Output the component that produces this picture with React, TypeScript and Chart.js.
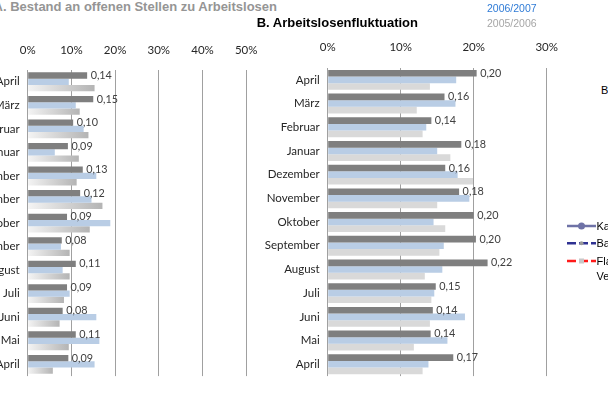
import React, { useEffect, useRef } from 'react';
import { Chart, registerables } from 'chart.js';

Chart.register(...registerables);

const categories = ['April', 'März', 'Februar', 'Januar', 'Dezember', 'November', 'Oktober', 'September', 'August', 'Juli', 'Juni', 'Mai', 'April'];

// A. Bestand an offenen Stellen zu Arbeitslosen
const stockDark = [0.136, 0.15, 0.104, 0.092, 0.126, 0.12, 0.09, 0.078, 0.11, 0.09, 0.08, 0.11, 0.093];
const stockBlue = [0.094, 0.11, 0.128, 0.062, 0.157, 0.146, 0.189, 0.076, 0.08, 0.096, 0.157, 0.164, 0.153];
const stockGray = [0.153, 0.119, 0.139, 0.117, 0.112, 0.171, 0.142, 0.096, 0.096, 0.083, 0.073, 0.094, 0.0575];
const ticksA = ['0%', '10%', '20%', '30%', '40%', '50%'];

// B. Arbeitslosenfluktuation
const flowDark = [0.204, 0.16, 0.142, 0.183, 0.161, 0.18, 0.2, 0.203, 0.219, 0.148, 0.144, 0.141, 0.172];
const flowBlue = [0.176, 0.175, 0.135, 0.15, 0.178, 0.194, 0.145, 0.159, 0.157, 0.146, 0.188, 0.164, 0.138];
const flowGray = [0.14, 0.122, 0.13, 0.168, 0.199, 0.15, 0.161, 0.153, 0.133, 0.142, 0.14, 0.118, 0.13];
const ticksB = ['0%', '10%', '20%', '30%'];

const DARK = '#7f7f7f';
const BLUE = '#b9cde5';
const LIGHT = '#d9d9d9';

const valueLabels = {
  id: 'valueLabels',
  afterDatasetsDraw(chart: any) {
    const meta = chart.getDatasetMeta(0);
    const c = chart.ctx;
    c.save();
    c.font = '10.8px Lato';
    c.fillStyle = '#404040';
    c.textBaseline = 'middle';
    c.textAlign = 'left';
    meta.data.forEach((el: any, i: number) => {
      const v = chart.data.datasets[0].data[i] as number;
      c.fillText(v.toFixed(2).replace('.', ','), el.x + 3.5, el.y);
    });
    c.restore();
  },
};

function gradientGray(ctx: any) {
  const chart = ctx.chart;
  if (ctx.type !== 'data' || !chart.chartArea) return '#cccccc';
  const xs = chart.scales.x;
  const x0 = xs.getPixelForValue(0);
  const x1 = xs.getPixelForValue(ctx.raw);
  const g = chart.ctx.createLinearGradient(x0, 0, Math.max(x1, x0 + 1), 0);
  g.addColorStop(0, '#f4f4f4');
  g.addColorStop(1, '#b4b4b4');
  return g;
}

function makeConfig(dark: number[], blue: number[], gray: number[], max: number, tickLabels: string[], gradient: boolean, catPct: number, tickPad: number): any {
  return {
    type: 'bar',
    data: {
      labels: categories,
      datasets: [
        { data: dark, backgroundColor: DARK },
        { data: blue, backgroundColor: BLUE },
        { data: gray, backgroundColor: gradient ? gradientGray : LIGHT },
      ],
    },
    options: {
      indexAxis: 'y',
      responsive: false,
      animation: false,
      events: [],
      datasets: { bar: { categoryPercentage: catPct, barPercentage: 1.0 } },
      layout: { padding: { top: 0, right: 22, bottom: 0, left: 0 } },
      plugins: { legend: { display: false }, tooltip: { enabled: false }, title: { display: false } },
      scales: {
        x: {
          position: 'top',
          min: 0,
          max,
          ticks: {
            stepSize: 0.1,
            padding: tickPad,
            color: '#262626',
            font: { family: 'Lato', size: 11.5 },
            callback: (_v: any, i: number) => tickLabels[i],
          },
          grid: { color: '#a0a0a0', lineWidth: 1, drawTicks: false },
          border: { display: false },
          afterFit: (s: any) => { s.height = 30; },
        },
        y: {
          ticks: { padding: 8, color: '#262626', font: { family: 'Lato', size: 11.5 }, autoSkip: false },
          grid: { display: false, drawTicks: false },
          border: { display: false },
          afterFit: (s: any) => { s.width = 97.7; },
        },
      },
    },
    plugins: [valueLabels],
  };
}

export default function App() {
  const leftRef = useRef<HTMLCanvasElement>(null);
  const rightRef = useRef<HTMLCanvasElement>(null);

  useEffect(() => {
    const a = new Chart(leftRef.current as HTMLCanvasElement, makeConfig(stockDark, stockBlue, stockGray, 0.5, ticksA, true, 0.8, 12.5));
    const b = new Chart(rightRef.current as HTMLCanvasElement, makeConfig(flowDark, flowBlue, flowGray, 0.3, ticksB, false, 0.84, 14));
    return () => { a.destroy(); b.destroy(); };
  }, []);

  const arial = '"Liberation Sans", Arial, sans-serif';
  const txt = (extra: any): any => ({ position: 'absolute', whiteSpace: 'nowrap', lineHeight: 1, fontFamily: arial, ...extra });

  return (
    <div style={{ position: 'fixed', left: 0, top: 0, width: 608, height: 413, overflow: 'hidden', background: '#ffffff' }}>
      <canvas ref={leftRef} width={340} height={351} style={{ position: 'absolute', left: -70, top: 40, width: 340, height: 351 }} />
      <canvas ref={rightRef} width={342} height={353} style={{ position: 'absolute', left: 230, top: 38, width: 342, height: 353 }} />

      <div style={txt({ right: 331, top: 0, fontSize: 13, fontWeight: 'bold', color: '#959595' })}>A. Bestand an offenen Stellen zu Arbeitslosen</div>
      <div style={txt({ right: 190, top: 16.3, fontSize: 13, fontWeight: 'bold', color: '#000000' })}>B. Arbeitslosenfluktuation</div>
      <div style={txt({ left: 487, top: 2.8, fontSize: 10.5, color: '#2f7bd6' })}>2006/2007</div>
      <div style={txt({ left: 487, top: 18.4, fontSize: 10.5, color: '#a6a6a6' })}>2005/2006</div>

      <div style={txt({ left: 601, top: 85, fontSize: 11, color: '#000000' })}>B</div>
      <svg style={{ position: 'absolute', left: 566, top: 218 }} width={31} height={50}>
        <line x1={1} x2={30} y1={8} y2={8} stroke="#6e72a6" strokeWidth={2.5} />
        <circle cx={15.5} cy={8} r={3.5} fill="#6e72a6" />
        <line x1={1} x2={30} y1={25.3} y2={25.3} stroke="#2e3192" strokeWidth={2.5} strokeDasharray="9 3" />
        <circle cx={15.5} cy={25.3} r={2} fill="#9a9a9a" />
        <line x1={1} x2={30} y1={43} y2={43} stroke="#ff1a1a" strokeWidth={2.5} strokeDasharray="9 3" />
        <rect x={13} y={40.5} width={5} height={5} fill="#c8c8c8" />
      </svg>
      <div style={txt({ left: 596.5, top: 220.6, fontSize: 11, color: '#000000' })}>Ka</div>
      <div style={txt({ left: 596.5, top: 238, fontSize: 11, color: '#000000' })}>Ba</div>
      <div style={txt({ left: 596.5, top: 255.6, fontSize: 11, color: '#000000' })}>Fla</div>
      <div style={txt({ left: 596.5, top: 270.6, fontSize: 11, color: '#000000' })}>Ve</div>
    </div>
  );
}
